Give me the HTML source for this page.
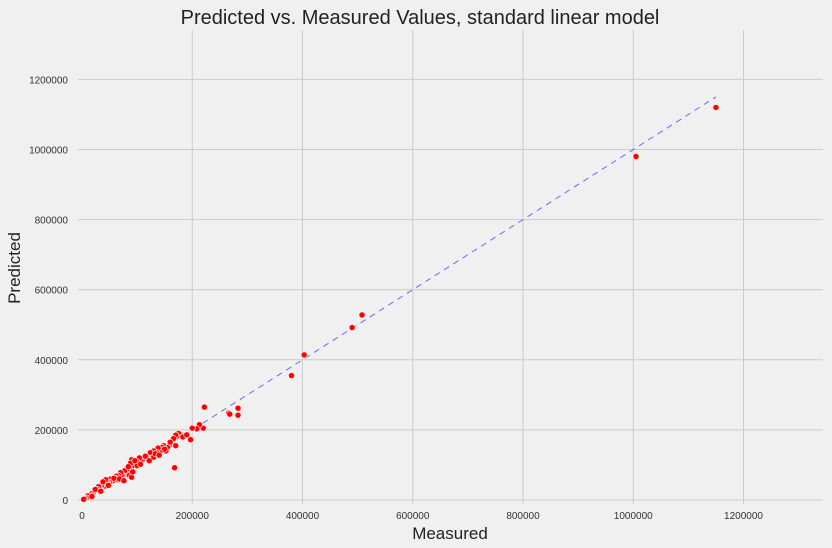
<!DOCTYPE html>
<html><head><meta charset="utf-8"><style>
body{margin:0;background:#f0f0f0;}
svg{display:block;font-family:"Liberation Sans",sans-serif;}
</style></head><body>
<svg id="chart" width="832" height="548">
<rect x="0" y="0" width="832" height="548" fill="#f0f0f0"/>
<g id="grid"></g>
<g id="ticks"></g>
<line id="ref" stroke="#6a6aff" stroke-width="1" stroke-dasharray="6,5"/>
<g id="pts"></g>
<text x="420" y="24" text-anchor="middle" font-size="20" fill="#222">Predicted vs. Measured Values, standard linear model</text>
<text x="450" y="539" text-anchor="middle" font-size="17" fill="#222">Measured</text>
<text x="20" y="268" text-anchor="middle" font-size="17" fill="#222" transform="rotate(-90 20 268)">Predicted</text>
</svg>
<script>
const xTicks=[0,200000,400000,600000,800000,1000000,1200000];
const yTicks=[0,200000,400000,600000,800000,1000000,1200000];
const measured=[1150000,1005000,508000,490000,403000,380000,283000,283000,266000,268000,222000,220000,213000,208000,200000,197000,168000,
178000,175000,172000,170000,166000,162000,158000,155000,152000,148000,145000,142000,138000,135000,130000,127000,124000,120000,117000,113000,110000,107000,104000,100000,98000,95000,93000,90000,88000,86000,85000,82000,80000,77000,74000,72000,70000,66000,62000,60000,56000,52000,50000,47000,45000,42000,40000,37000,35000,32000,30000,28000,25000,22000,20000,17000,15000,12000,10000,8000,5000,3000,43000,65000,86000,90000,100000,130000,170000,
18000,24000,34000,38000,48000,58000,68000,76000,84000,92000,96000,106000,115000,122000,133000,140000,150000,160000,183000,190000];
const predicted=[1120000,980000,528000,492000,414000,355000,262000,242000,248000,245000,265000,205000,215000,203000,205000,172000,92000,
187000,190000,182000,185000,175000,160000,155000,150000,140000,155000,150000,140000,148000,136000,140000,130000,135000,120000,122000,118000,115000,112000,120000,108000,100000,110000,98000,115000,105000,90000,80000,88000,75000,83000,70000,72000,78000,70000,68000,62000,55000,60000,50000,48000,52000,40000,55000,45000,40000,35000,38000,30000,28000,24000,20000,18000,14000,10000,12000,6000,4000,2000,58000,58000,70000,65000,98000,122000,155000,
10000,30000,25000,52000,42000,62000,60000,55000,95000,80000,112000,102000,125000,112000,132000,128000,145000,165000,180000,186000];
const X0=82,XS=110.25/200000,Y0=500,YS=70.1/200000;
const sx=v=>X0+v*XS, sy=v=>Y0-v*YS;
const NS='http://www.w3.org/2000/svg';
const grid=document.getElementById('grid'),ticks=document.getElementById('ticks'),pts=document.getElementById('pts');
xTicks.forEach(t=>{
 if(t>0){const l=document.createElementNS(NS,'line');
 
 
 l.setAttribute('x1',sx(t));l.setAttribute('x2',sx(t));l.setAttribute('y1',30);l.setAttribute('y2',504);l.setAttribute('stroke','#cbcbcb');grid.appendChild(l);}
 const tx=document.createElementNS(NS,'text');
 
 
 tx.setAttribute('x',sx(t));tx.setAttribute('y',519);tx.setAttribute('text-anchor','middle');tx.setAttribute('font-size','10');tx.setAttribute('fill','#333');tx.textContent=t;ticks.appendChild(tx);
});
yTicks.forEach(t=>{
 const l=document.createElementNS(NS,'line');
 
 
 l.setAttribute('x1',78);l.setAttribute('x2',823);l.setAttribute('y1',sy(t));l.setAttribute('y2',sy(t));l.setAttribute('stroke','#cbcbcb');grid.appendChild(l);
 const tx=document.createElementNS(NS,'text');
 
 
 tx.setAttribute('x',68);tx.setAttribute('y',sy(t)+4);tx.setAttribute('text-anchor','end');tx.setAttribute('font-size','10');tx.setAttribute('fill','#333');tx.textContent=t;ticks.appendChild(tx);
});
const ref=document.getElementById('ref');
const lineMax=measured[0];
ref.setAttribute('x1',sx(0));ref.setAttribute('y1',sy(0));ref.setAttribute('x2',sx(lineMax));ref.setAttribute('y2',sy(lineMax));
measured.forEach((m,i)=>{
 const c=document.createElementNS(NS,'circle');
 
 
 c.setAttribute('cx',sx(m));c.setAttribute('cy',sy(predicted[i]));c.setAttribute('r',3.1);
 c.setAttribute('fill','#ff0000');c.setAttribute('stroke','#ffffff');c.setAttribute('stroke-width','0.8');c.setAttribute('stroke-opacity','0.8');
 pts.appendChild(c);
});
</script>
</body></html>
